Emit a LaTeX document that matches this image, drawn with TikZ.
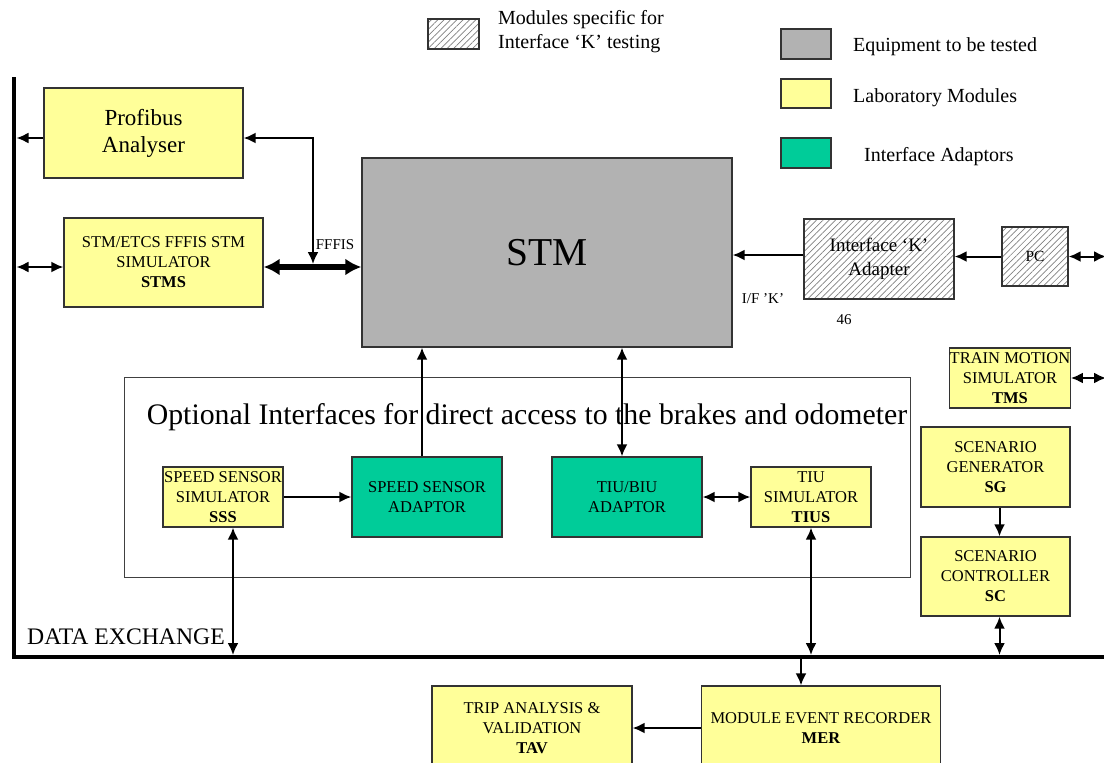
\documentclass[tikz,border=0pt]{standalone}
\usepackage{fontspec}
\setmainfont{Liberation Serif}
\usepackage{tikz}
\usetikzlibrary{arrows.meta,patterns.meta}

\definecolor{labyellow}{HTML}{FFFF99}
\definecolor{equipgray}{HTML}{B2B2B2}
\definecolor{adaptgreen}{HTML}{00CC99}

\tikzset{
  box/.style={draw=black!80, line width=1.3pt, inner sep=0pt, align=center,
    font=\fontsize{16.5}{20}\selectfont},
  lab/.style={box, fill=labyellow},
  equip/.style={box, fill=equipgray},
  adapt/.style={box, fill=adaptgreen},
  hatch/.style={box, pattern={Lines[angle=45, distance=4.5pt, line width=0.7pt]}, pattern color=black!50},
  optbox/.style={draw=black!75, line width=1pt},
  legtext/.style={font=\fontsize{20}{24}\selectfont, align=left, inner sep=0pt},
  small/.style={font=\fontsize{15}{18}\selectfont, inner sep=0pt},
  link/.style={line width=2pt, -{Latex[length=12pt,width=11pt]}},
  dlink/.style={line width=2pt, {Latex[length=12pt,width=11pt]}-{Latex[length=12pt,width=11pt]}},
  fatlink/.style={line width=5.5pt, {Latex[length=16pt,width=17pt]}-{Latex[length=16pt,width=17pt]}},
  bus/.style={line width=4.5pt},
}

\begin{document}
\begin{tikzpicture}[x=1pt, y=-1pt]
\useasboundingbox (0,0) rectangle (1104,763);

\node[hatch, minimum width=51pt, minimum height=30pt] (keyk) at (453.5,34) {};
\node[legtext, anchor=west] (keyktxt) at (498,32) {Modules specific for\\Interface ‘K’ testing};
\node[equip, minimum width=50pt, minimum height=30pt] (keyeq) at (806,44) {};
\node[legtext, anchor=west] (keyeqtxt) at (853,47) {Equipment to be tested};
\node[lab, minimum width=50pt, minimum height=29pt] (keylab) at (806,93.5) {};
\node[legtext, anchor=west] (keylabtxt) at (853,98) {Laboratory Modules};
\node[adapt, minimum width=50pt, minimum height=30pt] (keyad) at (806,153) {};
\node[legtext, anchor=west] (keyadtxt) at (864,157) {Interface Adaptors};

\coordinate (bustop) at (14,77);
\coordinate (buscorner) at (14,657);
\coordinate (busend) at (1106,657);
\draw[bus] (bustop) -- (buscorner) -- (busend);
\coordinate (lb) at (16.5,0);
\coordinate (rb) at (1106,0);
\coordinate (bb) at (0,655);

\node[optbox, minimum width=786pt, minimum height=200pt] (opt) at (517,477) {};
\node[font=\fontsize{29.8}{34}\selectfont, inner sep=0pt] (opttxt) at (527,417) {Optional Interfaces for direct access to the brakes and odometer};

\node[lab, minimum width=199pt, minimum height=90pt, font=\fontsize{23}{27}\selectfont] (prof) at (143.5,133) {Profibus\\Analyser};
\node[lab, minimum width=199pt, minimum height=89pt] (stms) at (163.5,262.5) {STM/ETCS FFFIS STM\\SIMULATOR\\\textbf{STMS}};
\node[equip, minimum width=370pt, minimum height=189pt, font=\fontsize{39.5}{44}\selectfont] (stm) at (547,252.5) {\raisebox{-2pt}{STM}};
\node[hatch, minimum width=150pt, minimum height=80pt, font=\fontsize{19}{24}\selectfont] (ika) at (879,259) {Interface ‘K’\\Adapter};
\node[hatch, minimum width=66pt, minimum height=59pt, font=\fontsize{15.5}{19}\selectfont] (pc) at (1035,256.5) {PC};

\node[lab, minimum width=120pt, minimum height=60pt] (sss) at (223,497) {SPEED SENSOR\\SIMULATOR\\\textbf{SSS}};
\node[adapt, minimum width=150pt, minimum height=80pt] (ssa) at (427,497) {SPEED SENSOR\\ADAPTOR};
\node[adapt, minimum width=150pt, minimum height=80pt] (tbiu) at (627,497) {TIU/BIU\\ADAPTOR};
\node[lab, minimum width=120pt, minimum height=60pt] (tius) at (811,497) {TIU\\SIMULATOR\\\textbf{TIUS}};

\node[lab, minimum width=120pt, minimum height=60pt] (tms) at (1010,378) {TRAIN MOTION\\SIMULATOR\\\textbf{TMS}};
\node[lab, minimum width=149pt, minimum height=80pt] (sg) at (995.5,467) {SCENARIO\\GENERATOR\\\textbf{SG}};
\node[lab, minimum width=149pt, minimum height=79pt] (sc) at (995.5,576.5) {SCENARIO\\CONTROLLER\\\textbf{SC}};

\node[lab, minimum width=239pt, minimum height=84pt] (mer) at (821,728) {MODULE EVENT RECORDER\\\textbf{MER}};
\node[lab, minimum width=200pt, minimum height=84pt] (tav) at (532,728) {TRIP ANALYSIS \&\\VALIDATION\\\textbf{TAV}};

\node[small] (fffis) at (335,245) {FFFIS};
\node[small] (ifk) at (763,299) {I/F ’K’};
\node[small] (num) at (844,320) {46};
\node[font=\fontsize{23.7}{28}\selectfont, inner sep=0pt, anchor=west] (dx) at (27,637) {DATA EXCHANGE};

\coordinate (ffjoin) at (313,267);
\draw[link] ([yshift=-5pt]prof.west) -- ([yshift=-5pt]prof.west -| lb);
\draw[dlink] ([yshift=-5pt]prof.east) -| ([yshift=3pt]ffjoin);
\draw[dlink] (stms.west |- ffjoin) -- (lb |- ffjoin);
\draw[fatlink] (stms.east |- ffjoin) -- (stm.west |- ffjoin);
\draw[link] ([yshift=4pt]ika.west) -- ([yshift=4pt]ika.west -| stm.east);
\draw[link] (pc.west) -- (pc.west -| ika.east);
\draw[dlink] (pc.east) -- (pc.east -| rb);
\draw[dlink] (tms.east) -- (tms.east -| rb);

\draw[link] (sss.east) -- (sss.east -| ssa.west);
\draw[link] ([xshift=-5pt]ssa.north) -- ([xshift=-5pt]ssa.north |- stm.south);
\draw[dlink] ([xshift=-5pt]tbiu.north) -- ([xshift=-5pt]tbiu.north |- stm.south);
\draw[dlink] (tbiu.east) -- (tbiu.east -| tius.west);
\draw[dlink] ([xshift=10pt]sss.south) -- ([xshift=10pt]sss.south |- bb);
\draw[dlink] (tius.south) -- (tius.south |- bb);

\draw[link] ([xshift=4pt]sg.south) -- ([xshift=4pt]sc.north);
\draw[dlink] ([xshift=4pt]sc.south) -- ([xshift=4pt]sc.south |- bb);
\coordinate (merin) at (801,657);
\draw[link] (merin) -- (merin |- mer.north);
\draw[link] (mer.west) -- (mer.west -| tav.east);
\end{tikzpicture}
\end{document}
